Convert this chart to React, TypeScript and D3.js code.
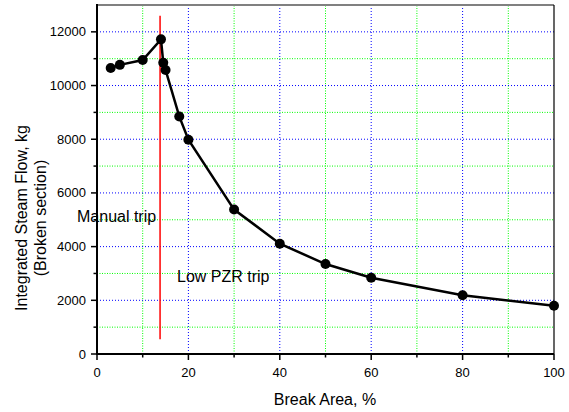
import React from "react";
import * as d3 from "d3";

const breakArea = [3, 5, 10, 14, 14.5, 15, 18, 20, 30, 40, 50, 60, 80, 100];
const steamFlow = [10650, 10770, 10950, 11720, 10850, 10580, 8850, 7980, 5380, 4110, 3350, 2840, 2190, 1800];
const xMajorTicks = [0, 20, 40, 60, 80, 100];
const xMinorTicks = [10, 30, 50, 70, 90];
const yMajorTicks = [0, 2000, 4000, 6000, 8000, 10000, 12000];
const yMinorTicks = [1000, 3000, 5000, 7000, 9000, 11000];
const tripLineX = 13.8;
const tripLineY = [550, 12600];

const W = 569, H = 412;
const m = { left: 97, right: 15, top: 5, bottom: 58 };

export default function App() {
  const x = d3.scaleLinear().domain([0, 100]).range([m.left, W - m.right]);
  const y = d3.scaleLinear().domain([0, 13000]).range([H - m.bottom, m.top]);
  const line = d3.line<number>().x((_, i) => x(breakArea[i])).y((d) => y(d));
  const x0 = x(0), x1 = x(100), y0 = y(0), y1 = y(13000);
  const font = "Arial, 'Liberation Sans', Helvetica, sans-serif";
  return (
    <svg width={W} height={H} style={{ position: "absolute", left: 0, top: 0, background: "#fff" }} fontFamily={font}>
      {/* grid */}
      {xMinorTicks.map((t) => (
        <line key={"gx" + t} x1={x(t)} x2={x(t)} y1={y0} y2={y1} stroke="#00ff00" strokeWidth={1} strokeDasharray="1,1.5" />
      ))}
      {xMajorTicks.filter((t) => t > 0 && t < 100).map((t) => (
        <line key={"gX" + t} x1={x(t)} x2={x(t)} y1={y0} y2={y1} stroke="#0000ff" strokeWidth={1} strokeDasharray="1,2" />
      ))}
      {yMinorTicks.map((t) => (
        <line key={"gy" + t} x1={x0} x2={x1} y1={y(t)} y2={y(t)} stroke="#00ff00" strokeWidth={1} strokeDasharray="1,1.5" />
      ))}
      {yMajorTicks.filter((t) => t > 0).map((t) => (
        <line key={"gY" + t} x1={x0} x2={x1} y1={y(t)} y2={y(t)} stroke="#0000ff" strokeWidth={1} strokeDasharray="1,2" />
      ))}
      {/* frame */}
      <line x1={x0} x2={x1} y1={y1} y2={y1} stroke="#808080" strokeWidth={2} />
      <line x1={x1} x2={x1} y1={y1} y2={y0} stroke="#000" strokeWidth={1.2} />
      <line x1={x0} x2={x0} y1={y1 - 1} y2={y0 + 1} stroke="#000" strokeWidth={2} />
      <line x1={x0 - 1} x2={x1} y1={y0} y2={y0} stroke="#000" strokeWidth={2} />
      {/* ticks */}
      {xMajorTicks.map((t) => (
        <g key={"tx" + t}>
          <line x1={x(t)} x2={x(t)} y1={y0} y2={y0 + 6} stroke="#000" strokeWidth={1.5} />
          <text x={x(t)} y={377} fontSize={13} textAnchor="middle">{t}</text>
        </g>
      ))}
      {xMinorTicks.map((t) => (
        <line key={"tmx" + t} x1={x(t)} x2={x(t)} y1={y0} y2={y0 + 3.5} stroke="#000" strokeWidth={1.5} />
      ))}
      {yMajorTicks.map((t) => (
        <g key={"ty" + t}>
          <line x1={x0 - 6} x2={x0} y1={y(t)} y2={y(t)} stroke="#000" strokeWidth={1.5} />
          <text x={86} y={y(t) + 4.5} fontSize={13} textAnchor="end">{t}</text>
        </g>
      ))}
      {yMinorTicks.map((t) => (
        <line key={"tmy" + t} x1={x0 - 3.5} x2={x0} y1={y(t)} y2={y(t)} stroke="#000" strokeWidth={1.5} />
      ))}
      {/* red trip line */}
      <line x1={x(tripLineX)} x2={x(tripLineX)} y1={y(tripLineY[0])} y2={y(tripLineY[1])} stroke="#ff0000" strokeWidth={1.5} />
      {/* data */}
      <path d={line(steamFlow) || ""} fill="none" stroke="#000" strokeWidth={2.5} />
      {steamFlow.map((v, i) => (
        <circle key={"p" + i} cx={x(breakArea[i])} cy={y(v)} r={5} fill="#000" />
      ))}
      {/* annotations */}
      <text x={77} y={222} fontSize={16}>Manual trip</text>
      <text x={177} y={282} fontSize={16}>Low PZR trip</text>
      {/* axis titles */}
      <text x={325} y={405} fontSize={16} textAnchor="middle">Break Area, %</text>
      <text transform="translate(27,218) rotate(-90)" fontSize={16} textAnchor="middle">Integrated Steam Flow, kg</text>
      <text transform="translate(46,218) rotate(-90)" fontSize={16} textAnchor="middle">(Broken section)</text>
    </svg>
  );
}
